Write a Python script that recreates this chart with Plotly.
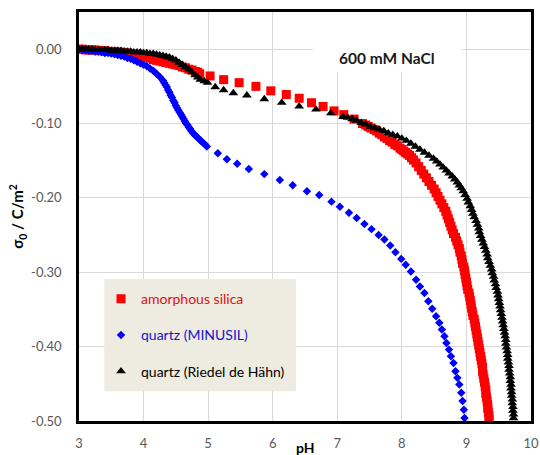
import plotly.graph_objects as go

# ---------------- data ----------------
RED_NAME = "amorphous silica"
BLUE_NAME = "quartz (MINUSIL)"
BLACK_NAME = "quartz (Riedel de Hähn)"

red_ph = [3.00, 3.05, 3.10, 3.15, 3.20, 3.25, 3.30, 3.35, 3.40, 3.45, 3.50, 3.55, 3.60, 3.65, 3.70,
          3.75, 3.80, 3.85, 3.90, 3.95, 4.00, 4.05, 4.10, 4.15, 4.20, 4.25, 4.30, 4.35, 4.40, 4.45,
          4.50, 4.55, 4.60, 4.65, 4.70, 4.75, 4.80, 4.84, 4.87,
          5.03, 5.24, 5.48, 5.74, 5.97, 6.21, 6.41, 6.60, 6.78, 6.95, 7.10, 7.26,
          7.39, 7.44, 7.48, 7.52, 7.57, 7.61, 7.65, 7.69, 7.73, 7.77, 7.81,
          7.85, 7.89, 7.93, 7.97, 8.00, 8.03, 8.06, 8.09, 8.12, 8.15, 8.18,
          8.22, 8.26, 8.30, 8.34, 8.38, 8.42, 8.46, 8.50, 8.53, 8.56,
          8.59, 8.62, 8.65, 8.68, 8.70, 8.72, 8.74, 8.76, 8.78, 8.80,
          8.83, 8.85, 8.87, 8.89, 8.90, 8.92, 8.93, 8.94, 8.96, 8.97,
          8.98, 8.99, 9.00, 9.01, 9.02, 9.04, 9.05, 9.06, 9.07, 9.08,
          9.09, 9.10, 9.12, 9.13, 9.14, 9.15, 9.16, 9.17, 9.18, 9.19,
          9.20, 9.21, 9.22, 9.23, 9.24, 9.25, 9.25, 9.26, 9.27, 9.28,
          9.29, 9.30, 9.30, 9.31, 9.32, 9.33, 9.33, 9.34, 9.35, 9.35]
red_sigma = [0.000, 0.000, -0.001, -0.001, -0.001, -0.001, -0.002, -0.002, -0.002, -0.003, -0.003,
             -0.003, -0.004, -0.004, -0.005, -0.005, -0.006, -0.007, -0.008, -0.009, -0.010, -0.011,
             -0.012, -0.014, -0.015, -0.016, -0.017, -0.018, -0.019, -0.020, -0.021, -0.022, -0.024,
             -0.025, -0.027, -0.028, -0.030, -0.031, -0.033,
             -0.036, -0.041, -0.045, -0.050, -0.056, -0.061, -0.066, -0.072, -0.077, -0.083, -0.088,
             -0.094,
             -0.100, -0.102, -0.104, -0.106, -0.108, -0.110, -0.113, -0.115, -0.118, -0.120, -0.123,
             -0.125, -0.128, -0.130, -0.133, -0.135, -0.137, -0.139, -0.141, -0.143, -0.146, -0.149,
             -0.153, -0.158, -0.163, -0.168, -0.173, -0.178, -0.183, -0.188, -0.193, -0.198,
             -0.203, -0.208, -0.213, -0.218, -0.223, -0.228, -0.233, -0.238, -0.243, -0.248,
             -0.253, -0.258, -0.263, -0.268, -0.273, -0.278, -0.283, -0.288, -0.293, -0.298,
             -0.303, -0.308, -0.313, -0.318, -0.323, -0.328, -0.333, -0.338, -0.343, -0.348,
             -0.353, -0.358, -0.363, -0.368, -0.373, -0.378, -0.383, -0.388, -0.393, -0.398,
             -0.403, -0.408, -0.413, -0.418, -0.423, -0.428, -0.433, -0.438, -0.443, -0.448,
             -0.453, -0.458, -0.463, -0.468, -0.473, -0.478, -0.483, -0.488, -0.493, -0.498]

blue_ph = [3.00, 3.05, 3.10, 3.15, 3.20, 3.25, 3.30, 3.35, 3.40, 3.45, 3.50, 3.55, 3.60, 3.65, 3.70,
           3.75, 3.80, 3.85, 3.90, 3.95, 4.00, 4.05, 4.10, 4.15, 4.20, 4.25,
           4.30, 4.32, 4.34, 4.36, 4.38, 4.40, 4.42, 4.44, 4.46, 4.48,
           4.50, 4.52, 4.54, 4.56, 4.58, 4.60, 4.62, 4.64, 4.66, 4.68,
           4.70, 4.72, 4.74, 4.77, 4.80, 4.83, 4.86, 4.89, 4.92, 4.95, 4.98,
           5.15, 5.29, 5.45, 5.63, 5.87, 6.11, 6.31, 6.53, 6.72,
           6.91, 7.04, 7.18, 7.30, 7.42, 7.53, 7.64, 7.73, 7.82, 7.90,
           7.99, 8.06, 8.14, 8.22, 8.28, 8.35, 8.41, 8.47, 8.53, 8.58,
           8.62, 8.66, 8.69, 8.73, 8.76, 8.80, 8.83, 8.86, 8.89, 8.92,
           8.94, 8.96, 8.97]
blue_sigma = [0.000, -0.001, -0.001, -0.002, -0.002, -0.003, -0.003, -0.004, -0.005, -0.005, -0.006,
              -0.007, -0.008, -0.009, -0.010, -0.012, -0.013, -0.015, -0.017, -0.019, -0.021, -0.023,
              -0.026, -0.029, -0.033, -0.037,
              -0.042, -0.045, -0.048, -0.051, -0.055, -0.058, -0.062, -0.065, -0.069, -0.072,
              -0.076, -0.079, -0.082, -0.085, -0.088, -0.091, -0.094, -0.097, -0.100, -0.102,
              -0.105, -0.107, -0.110, -0.113, -0.116, -0.118, -0.121, -0.123, -0.126, -0.128, -0.131,
              -0.140, -0.148, -0.154, -0.161, -0.168, -0.176, -0.183, -0.191, -0.196,
              -0.205, -0.212, -0.220, -0.227, -0.235, -0.242, -0.250, -0.256, -0.264, -0.273,
              -0.282, -0.290, -0.299, -0.310, -0.319, -0.328, -0.339, -0.349, -0.359, -0.368,
              -0.377, -0.386, -0.395, -0.404, -0.413, -0.422, -0.433, -0.442, -0.451, -0.462,
              -0.473, -0.485, -0.496]

black_ph = [3.00, 3.05, 3.10, 3.15, 3.20, 3.25, 3.30, 3.35, 3.40, 3.45, 3.50, 3.55, 3.60, 3.65, 3.70,
            3.75, 3.80, 3.85, 3.90, 3.95, 4.00, 4.05, 4.10, 4.15, 4.20, 4.25, 4.30, 4.35, 4.40, 4.45,
            4.50, 4.55, 4.60, 4.65, 4.70, 4.75, 4.80, 4.84, 4.88,
            4.94, 4.99, 5.11, 5.24, 5.39, 5.60, 5.87, 6.14, 6.41, 6.67, 6.90,
            7.09, 7.16, 7.23, 7.30, 7.37, 7.44, 7.51, 7.58, 7.65, 7.72, 7.79,
            7.86, 7.93, 8.00, 8.07, 8.14, 8.21, 8.28, 8.35, 8.42, 8.49,
            8.54, 8.59, 8.64, 8.69, 8.73, 8.78, 8.82, 8.86, 8.89, 8.92, 8.95, 8.98,
            9.01, 9.03, 9.06, 9.08, 9.10, 9.12, 9.15, 9.17, 9.19, 9.20,
            9.22, 9.24, 9.26, 9.28, 9.30, 9.32, 9.33, 9.35, 9.37, 9.39,
            9.40, 9.42, 9.43, 9.45, 9.46, 9.48, 9.49, 9.50, 9.51, 9.52,
            9.53, 9.54, 9.55, 9.56, 9.57, 9.58, 9.59, 9.60, 9.61, 9.61,
            9.62, 9.63, 9.64, 9.64, 9.65, 9.66, 9.66, 9.67, 9.68, 9.68,
            9.69, 9.69, 9.70, 9.70, 9.71, 9.71, 9.72, 9.72, 9.73, 9.73]
black_sigma = [0.000, 0.000, 0.000, 0.000, 0.000, -0.001, -0.001, -0.001, -0.001, -0.001, -0.002,
               -0.002, -0.002, -0.002, -0.003, -0.003, -0.003, -0.004, -0.004, -0.004, -0.005, -0.005,
               -0.006, -0.006, -0.007, -0.008, -0.009, -0.010, -0.011, -0.013, -0.015, -0.018, -0.021,
               -0.024, -0.027, -0.031, -0.035, -0.038, -0.041,
               -0.043, -0.045, -0.051, -0.055, -0.059, -0.062, -0.067, -0.072, -0.077, -0.081, -0.086,
               -0.091, -0.092, -0.094, -0.096, -0.099, -0.101, -0.104, -0.106, -0.108, -0.110, -0.113,
               -0.115, -0.117, -0.120, -0.123, -0.127, -0.131, -0.135, -0.139, -0.143, -0.147,
               -0.151, -0.155, -0.159, -0.163, -0.167, -0.171, -0.175, -0.179, -0.183, -0.187, -0.191,
               -0.196,
               -0.201, -0.206, -0.211, -0.216, -0.221, -0.226, -0.231, -0.236, -0.241, -0.246,
               -0.251, -0.256, -0.261, -0.266, -0.271, -0.276, -0.281, -0.286, -0.291, -0.296,
               -0.301, -0.306, -0.311, -0.316, -0.321, -0.326, -0.331, -0.336, -0.341, -0.346,
               -0.351, -0.356, -0.361, -0.366, -0.371, -0.376, -0.381, -0.386, -0.391, -0.396,
               -0.401, -0.406, -0.411, -0.416, -0.421, -0.426, -0.431, -0.436, -0.441, -0.446,
               -0.451, -0.456, -0.461, -0.466, -0.471, -0.476, -0.481, -0.486, -0.491, -0.496]

x_ticks = [3, 4, 5, 6, 7, 8, 9, 10]
x_tick_labels = ["3", "4", "5", "6", "7", "8", "9", "10"]
y_ticks = [0.0, -0.1, -0.2, -0.3, -0.4, -0.5]
y_tick_labels = ["0.00", "-0.10", "-0.20", "-0.30", "-0.40", "-0.50"]

assert len(red_ph) == len(red_sigma), (len(red_ph), len(red_sigma))
assert len(blue_ph) == len(blue_sigma), (len(blue_ph), len(blue_sigma))
assert len(black_ph) == len(black_sigma), (len(black_ph), len(black_sigma))

RED = "#FF0000"
BLUE = "#0000FF"
BLACK = "#000000"
FONT = "Lato"

fig = go.Figure()
fig.add_trace(go.Scatter(
    x=red_ph, y=red_sigma, mode="markers", legendgroup="a",
    name=f'<span style="color:#E01010">{RED_NAME}</span>',
    marker=dict(symbol="square", size=9, color=RED, line=dict(width=0))))
fig.add_trace(go.Scatter(
    x=blue_ph, y=blue_sigma, mode="markers", legendgroup="b",
    name=f'<span style="color:#1515C8">{BLUE_NAME}</span>',
    marker=dict(symbol="diamond", size=6.5, color=BLUE, line=dict(width=0))))
fig.add_trace(go.Scatter(
    x=black_ph, y=black_sigma, mode="markers", legendgroup="c",
    name=f'<span style="color:{BLACK}">{BLACK_NAME}</span>',
    marker=dict(symbol="triangle-up", size=8.5, color=BLACK, line=dict(width=0))))

# white box behind the "600 mM NaCl" label, beige legend box
fig.add_shape(type="rect", xref="x", yref="y", x0=6.62, x1=8.93, y0=-0.031, y1=0.05,
              fillcolor="white", line=dict(width=0), layer="between")
fig.add_shape(type="rect", xref="x", yref="y", x0=3.39, x1=6.36, y0=-0.460, y1=-0.309,
              fillcolor="#EEECE1", line=dict(width=0), layer="between")

fig.add_annotation(x=7.77, y=-0.012, xref="x", yref="y", text="<b>600 mM NaCl</b>",
                   showarrow=False, font=dict(family=FONT, size=15.5, color="#1a1a1a"))
fig.add_annotation(x=0.5, y=0, xref="paper", yref="paper", yshift=-26, text="<b>pH</b>",
                   showarrow=False, yanchor="middle",
                   font=dict(family=FONT, size=14, color="#000000"))

axis_common = dict(showline=True, linecolor="black", linewidth=2.5, mirror=True,
                   showgrid=True, gridcolor="#D9D9D9", gridwidth=1, zeroline=False,
                   ticks="", tickfont=dict(family=FONT, size=13, color="#595959"))

fig.update_xaxes(range=[3, 10], tickvals=x_ticks, ticktext=x_tick_labels,
                 ticklabelstandoff=9, **axis_common)
fig.update_yaxes(range=[-0.5, 0.05], tickvals=y_ticks, ticktext=y_tick_labels,
                 ticklabelstandoff=12,
                 title=dict(text="<b>σ<sub>0</sub> / C/m<sup>2</sup></b>", standoff=4,
                            font=dict(family=FONT, size=15, color="black")),
                 **axis_common)

fig.update_layout(
    width=540, height=455,
    margin=dict(l=79, r=9, t=12, b=34, autoexpand=False),
    plot_bgcolor="white", paper_bgcolor="white",
    showlegend=True,
    legend=dict(x=0.0487, y=0.337, xanchor="left", yanchor="top",
                bgcolor="rgba(0,0,0,0)", borderwidth=0,
                font=dict(family=FONT, size=14), tracegroupgap=15,
                itemsizing="trace"),
)

fig.write_html("out.html")
